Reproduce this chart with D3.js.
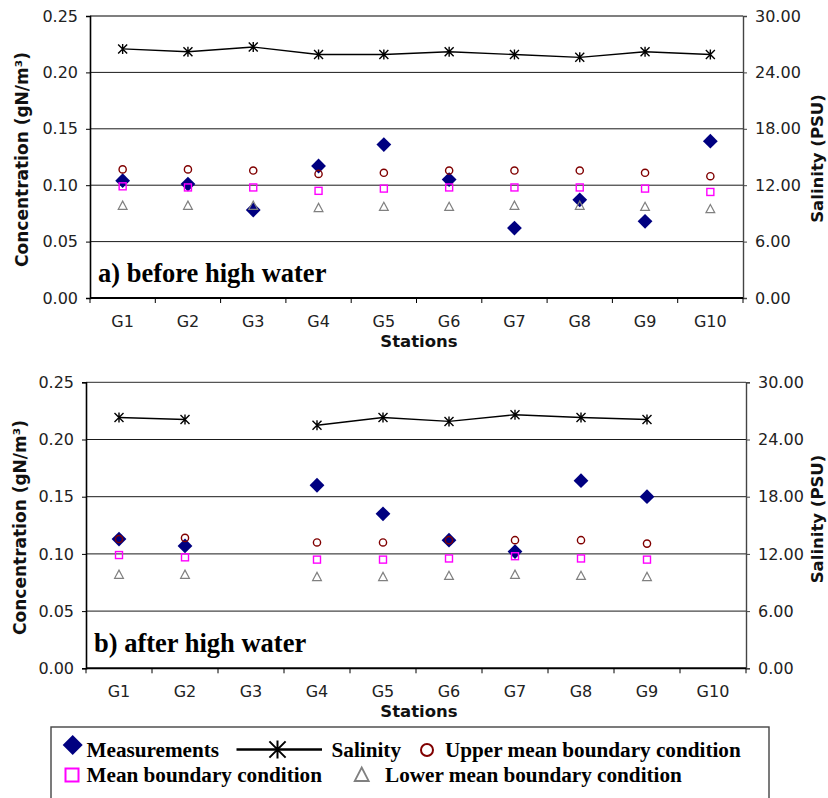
<!DOCTYPE html>
<html>
<head>
<meta charset="utf-8">
<script src="https://cdn.jsdelivr.net/npm/d3@7"></script>
<style>
  html, body { margin: 0; padding: 0; background: #fff; }
  svg { display: block; }
</style>
</head>
<body>
<svg id="chart" width="828" height="798"></svg>
<script>
// Stations along the estuary
const stations = ["G1", "G2", "G3", "G4", "G5", "G6", "G7", "G8", "G9", "G10"];

// Concentration axis ticks (gN/m³) and salinity axis ticks (PSU)
const concTicks = [0, 0.05, 0.10, 0.15, 0.20, 0.25];
const salTicks = [0, 6, 12, 18, 24, 30];

// a) before high water
const measA     = [0.104, 0.101, 0.078, 0.117, 0.136, 0.105, 0.062, 0.087, 0.068, 0.139];
const upperA    = [0.114, 0.114, 0.113, 0.110, 0.111, 0.113, 0.113, 0.113, 0.111, 0.108];
const meanA     = [0.099, 0.098, 0.098, 0.095, 0.097, 0.098, 0.098, 0.098, 0.097, 0.094];
const lowerA    = [0.082, 0.082, 0.082, 0.080, 0.081, 0.081, 0.082, 0.082, 0.081, 0.079];
const salinityA = [26.5, 26.2, 26.7, 25.9, 25.9, 26.2, 25.9, 25.6, 26.2, 25.9];

// b) after high water (no samples at G3 and G10)
const measB     = [0.113, 0.107, null, 0.160, 0.135, 0.112, 0.102, 0.164, 0.150, null];
const upperB    = [0.113, 0.114, null, 0.110, 0.110, 0.112, 0.112, 0.112, 0.109, null];
const meanB     = [0.099, 0.097, null, 0.095, 0.095, 0.096, 0.098, 0.096, 0.095, null];
const lowerB    = [0.082, 0.082, null, 0.080, 0.080, 0.081, 0.082, 0.081, 0.080, null];
const salinityB = [26.3, 26.1, null, 25.5, 26.3, 25.9, 26.6, 26.3, 26.1, null];

const C = {
  meas: "#000080",
  upper: "#800000",
  mean: "#ff00ff",
  lower: "#808080",
  sal: "#000000"
};

const svg = d3.select("#chart");
const sansFont = "'DejaVu Sans', Verdana, sans-serif";
const serifFont = "'Liberation Serif', 'Times New Roman', serif";

function asteriskPath(cx, cy, r) {
  const d = r * 0.9;
  return `M${cx},${cy - r}L${cx},${cy + r}` +
         `M${cx - d},${cy - d}L${cx + d},${cy + d}` +
         `M${cx - d},${cy + d}L${cx + d},${cy - d}`;
}

function drawPanel(cfg) {
  const { left, right, top, bottom, label, meas, upper, mean, lower, sal,
          yTitleX, yTitleY, y2TitleX, y2TitleY } = cfg;
  const g = svg.append("g");

  const x = d3.scaleBand().domain(stations).range([left, right]).padding(0);
  const y = d3.scaleLinear().domain([0, 0.25]).range([bottom, top]);
  const y2 = d3.scaleLinear().domain([0, 30]).range([bottom, top]);
  const cx = i => x(stations[i]) + x.bandwidth() / 2;

  // horizontal gridlines
  g.append("g").selectAll("line")
    .data(concTicks.filter(t => t > 0 && t < 0.25))
    .join("line")
    .attr("x1", left).attr("x2", right)
    .attr("y1", d => y(d)).attr("y2", d => y(d))
    .attr("stroke", "#1a1a1a").attr("stroke-width", 1);

  // top frame line
  g.append("line")
    .attr("x1", left).attr("x2", right)
    .attr("y1", y(0.25)).attr("y2", y(0.25))
    .attr("stroke", "#555").attr("stroke-width", 1.3);

  // left axis
  const yAxis = d3.axisLeft(y).tickValues(concTicks).tickFormat(d3.format(".2f"))
    .tickSize(4).tickPadding(8);
  const ga = g.append("g").attr("transform", `translate(${left},0)`).call(yAxis);
  ga.select(".domain").attr("stroke", "#000").attr("stroke-width", 1.6);
  ga.selectAll(".tick line").attr("stroke", "#000");
  ga.selectAll("text").attr("font-family", sansFont).attr("font-size", 16).attr("fill", "#222");

  // right axis (salinity)
  const yAxis2 = d3.axisRight(y2).tickValues(salTicks).tickFormat(d3.format(".2f"))
    .tickSize(4).tickPadding(8);
  const gb = g.append("g").attr("transform", `translate(${right},0)`).call(yAxis2);
  gb.select(".domain").attr("stroke", "#444").attr("stroke-width", 1.4);
  gb.selectAll(".tick line").attr("stroke", "#444");
  gb.selectAll("text").attr("font-family", sansFont).attr("font-size", 16).attr("fill", "#222");

  // bottom axis: ticks at station boundaries, labels at centres
  const bounds = stations.map(s => x(s)).concat([right]);
  g.append("g").selectAll("line").data(bounds).join("line")
    .attr("x1", d => d).attr("x2", d => d)
    .attr("y1", bottom).attr("y2", bottom + 5)
    .attr("stroke", "#000").attr("stroke-width", 1);
  g.append("line")
    .attr("x1", left).attr("x2", right)
    .attr("y1", bottom).attr("y2", bottom)
    .attr("stroke", "#000").attr("stroke-width", 2);
  g.append("g").selectAll("text").data(stations).join("text")
    .attr("x", d => x(d) + x.bandwidth() / 2)
    .attr("y", bottom + 29)
    .attr("text-anchor", "middle")
    .attr("font-family", sansFont).attr("font-size", 16).attr("fill", "#222")
    .text(d => d);

  // axis titles
  g.append("text")
    .attr("x", 419).attr("y", bottom + 49)
    .attr("text-anchor", "middle")
    .attr("font-family", sansFont).attr("font-size", 16.5).attr("font-weight", "bold")
    .attr("fill", "#111")
    .text("Stations");
  g.append("text")
    .attr("transform", `translate(${yTitleX},${yTitleY}) rotate(-90)`)
    .attr("text-anchor", "middle")
    .attr("font-family", sansFont).attr("font-size", 17).attr("font-weight", "bold")
    .attr("fill", "#111")
    .text("Concentration (gN/m³)");
  g.append("text")
    .attr("transform", `translate(${y2TitleX},${y2TitleY}) rotate(-90)`)
    .attr("text-anchor", "middle")
    .attr("font-family", sansFont).attr("font-size", 16.5).attr("font-weight", "bold")
    .attr("fill", "#111")
    .text("Salinity (PSU)");

  // panel label
  g.append("text")
    .attr("x", left + 8).attr("y", bottom - 16)
    .attr("font-family", serifFont).attr("font-size", 26.5).attr("font-weight", "bold")
    .attr("fill", "#000")
    .text(label);

  const idx = d3.range(stations.length);

  // measurements (diamonds)
  const dh = 7.4;
  g.append("g").selectAll("path").data(idx.filter(i => meas[i] != null)).join("path")
    .attr("d", i => {
      const px = cx(i), py = y(meas[i]);
      return `M${px},${py - dh}L${px + dh},${py}L${px},${py + dh}L${px - dh},${py}Z`;
    })
    .attr("fill", C.meas);

  // upper mean boundary condition (circles)
  g.append("g").selectAll("circle").data(idx.filter(i => upper[i] != null)).join("circle")
    .attr("cx", i => cx(i)).attr("cy", i => y(upper[i])).attr("r", 3.6)
    .attr("fill", "none").attr("stroke", C.upper).attr("stroke-width", 1.4);

  // mean boundary condition (squares)
  const sq = 3.5;
  g.append("g").selectAll("rect").data(idx.filter(i => mean[i] != null)).join("rect")
    .attr("x", i => cx(i) - sq).attr("y", i => y(mean[i]) - sq)
    .attr("width", sq * 2).attr("height", sq * 2)
    .attr("fill", "none").attr("stroke", C.mean).attr("stroke-width", 1.4);

  // lower mean boundary condition (triangles)
  g.append("g").selectAll("path").data(idx.filter(i => lower[i] != null)).join("path")
    .attr("d", i => {
      const px = cx(i), py = y(lower[i]);
      return `M${px},${py - 4.4}L${px + 4.4},${py + 3.8}L${px - 4.4},${py + 3.8}Z`;
    })
    .attr("fill", "none").attr("stroke", C.lower).attr("stroke-width", 1.2);

  // salinity line with asterisk markers
  const line = d3.line()
    .defined(i => sal[i] != null)
    .x(i => cx(i)).y(i => y2(sal[i]));
  g.append("path").datum(idx).attr("d", line)
    .attr("fill", "none").attr("stroke", C.sal).attr("stroke-width", 1.4);
  g.append("g").selectAll("path").data(idx.filter(i => sal[i] != null)).join("path")
    .attr("d", i => asteriskPath(cx(i), y2(sal[i]), 5))
    .attr("stroke", C.sal).attr("stroke-width", 1.4).attr("fill", "none");
}

drawPanel({
  left: 90, right: 743, top: 16, bottom: 298,
  label: "a) before high water",
  meas: measA, upper: upperA, mean: meanA, lower: lowerA, sal: salinityA,
  yTitleX: 28.3, yTitleY: 159.5, y2TitleX: 823, y2TitleY: 158.5
});

drawPanel({
  left: 86, right: 746, top: 382.3, bottom: 668.3,
  label: "b) after high water",
  meas: measB, upper: upperB, mean: meanB, lower: lowerB, sal: salinityB,
  yTitleX: 26, yTitleY: 527.5, y2TitleX: 823, y2TitleY: 519
});

// legend
const lg = svg.append("g");
lg.append("rect")
  .attr("x", 51).attr("y", 727).attr("width", 718).attr("height", 90)
  .attr("fill", "#fff").attr("stroke", "#444").attr("stroke-width", 1.4);

const legFont = 21.2;
const row1 = 756.5, row2 = 781.5;

// Measurements
lg.append("path")
  .attr("d", "M72.7,735L82.7,745L72.7,755L62.7,745Z")
  .attr("fill", C.meas);
lg.append("text").attr("x", 86.5).attr("y", row1)
  .attr("font-family", serifFont).attr("font-size", legFont).attr("font-weight", "bold")
  .text("Measurements");

// Salinity
lg.append("line").attr("x1", 236.5).attr("x2", 322).attr("y1", 749.5).attr("y2", 749.5)
  .attr("stroke", C.sal).attr("stroke-width", 2.5);
lg.append("path").attr("d", asteriskPath(277.5, 749.5, 9))
  .attr("stroke", C.sal).attr("stroke-width", 2).attr("fill", "none");
lg.append("text").attr("x", 331.5).attr("y", row1)
  .attr("font-family", serifFont).attr("font-size", legFont).attr("font-weight", "bold")
  .text("Salinity");

// Upper mean boundary condition
lg.append("circle").attr("cx", 427).attr("cy", 750).attr("r", 6)
  .attr("fill", "none").attr("stroke", C.upper).attr("stroke-width", 2);
lg.append("text").attr("x", 445).attr("y", row1)
  .attr("font-family", serifFont).attr("font-size", legFont).attr("font-weight", "bold")
  .text("Upper mean boundary condition");

// Mean boundary condition
lg.append("rect").attr("x", 65.5).attr("y", 768.5).attr("width", 13).attr("height", 13)
  .attr("fill", "none").attr("stroke", C.mean).attr("stroke-width", 2);
lg.append("text").attr("x", 86.5).attr("y", row2)
  .attr("font-family", serifFont).attr("font-size", legFont).attr("font-weight", "bold")
  .text("Mean boundary condition");

// Lower mean boundary condition
lg.append("path").attr("d", "M361.7,767.5L368.7,781L354.7,781Z")
  .attr("fill", "none").attr("stroke", C.lower).attr("stroke-width", 1.8);
lg.append("text").attr("x", 385).attr("y", row2)
  .attr("font-family", serifFont).attr("font-size", legFont).attr("font-weight", "bold")
  .text("Lower mean boundary condition");
</script>
</body>
</html>
